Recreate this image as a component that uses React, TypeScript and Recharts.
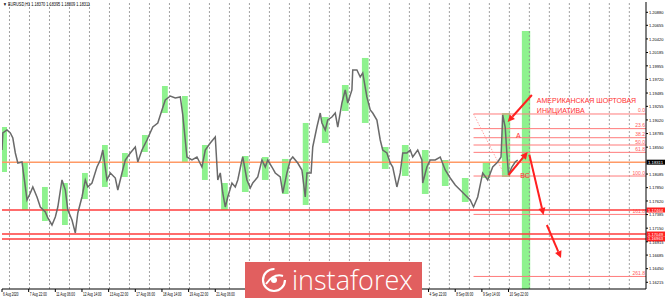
import { LineChart, Line, XAxis, YAxis, ReferenceArea, ReferenceLine, ReferenceDot } from "recharts";

// [bar index (H1), price]
const priceTrack: [number, number][] = [
  [0, 1.18501], [1, 1.18795], [6, 1.18847], [10, 1.18795], [13, 1.18708], [16, 1.18449], [19, 1.18276],
  [24, 1.18294], [28, 1.17862], [30, 1.17637], [34, 1.17758], [37, 1.17862], [42, 1.17689], [46, 1.17516],
  [52, 1.1743], [55, 1.17326], [60, 1.17205], [64, 1.17343], [67, 1.17516], [72, 1.17983], [76, 1.1781],
  [79, 1.17464], [84, 1.17291], [88, 1.17067], [91, 1.17412], [96, 1.17689], [100, 1.17983], [103, 1.17862],
  [108, 1.17931], [114, 1.18207], [118, 1.18328], [121, 1.18501], [126, 1.17983], [130, 1.18104], [136, 1.18017],
  [139, 1.1781], [144, 1.18104], [148, 1.18328], [154, 1.18449], [160, 1.18553], [163, 1.18294], [168, 1.18501],
  [174, 1.18674], [181, 1.18898], [187, 1.18968], [192, 1.19192], [196, 1.19365], [202, 1.19434], [208, 1.194],
  [214, 1.19417], [217, 1.19106], [222, 1.1838], [228, 1.18328], [234, 1.1838], [240, 1.18207], [244, 1.18501],
  [250, 1.18622], [256, 1.18726], [259, 1.17983], [262, 1.18104], [265, 1.17758], [268, 1.17516], [271, 1.17689],
  [276, 1.17931], [280, 1.17862], [283, 1.17983], [288, 1.18328], [289, 1.1838], [294, 1.17983], [298, 1.17844],
  [301, 1.17931], [307, 1.18034], [312, 1.18328], [316, 1.18207], [319, 1.18328], [324, 1.18207], [328, 1.18104],
  [334, 1.18034], [337, 1.17758], [342, 1.18104], [346, 1.18328], [349, 1.1838], [355, 1.18276], [360, 1.18155],
  [364, 1.17689], [366, 1.18104], [371, 1.18104], [373, 1.18553], [378, 1.18898], [382, 1.1914], [384, 1.18968],
  [388, 1.18847], [391, 1.19019], [396, 1.19071], [400, 1.1914], [403, 1.18898], [408, 1.19313], [412, 1.19538],
  [415, 1.19313], [420, 1.19538], [421, 1.19883], [426, 1.19883], [430, 1.19762], [433, 1.19832], [438, 1.19417],
  [442, 1.19192], [445, 1.1914], [450, 1.19019], [454, 1.18674], [457, 1.18501], [462, 1.18449], [466, 1.18276],
  [469, 1.18207], [474, 1.17862], [478, 1.18104], [481, 1.18449], [486, 1.18449], [490, 1.18501], [493, 1.1838],
  [499, 1.18501], [504, 1.18328], [505, 1.17931], [510, 1.18207], [514, 1.18328], [520, 1.18328], [526, 1.1838],
  [532, 1.18155], [538, 1.18017], [544, 1.17896], [550, 1.1781], [556, 1.17723], [562, 1.17637], [566, 1.17516],
  [571, 1.17689], [577, 1.18104], [583, 1.17983], [589, 1.18207], [595, 1.18294], [599, 1.1838], [601, 1.19106],
  [604, 1.18898], [606, 1.18449], [608, 1.18069], [612, 1.18207], [616, 1.18294], [619, 1.18328],
];

// green session boxes: [fromBar, toBar, high, low]
const sessionBoxes: [number, number, number, number][] = [
  [0, 6, 1.18898, 1.18121], [24, 31, 1.18276, 1.17464], [48, 55, 1.17862, 1.17274], [72, 79, 1.17931, 1.17205],
  [96, 103, 1.18104, 1.17654], [120, 127, 1.18587, 1.17862], [144, 151, 1.18449, 1.18034], [168, 175, 1.1876, 1.18466],
  [192, 199, 1.19607, 1.1914], [216, 223, 1.19434, 1.18276], [240, 247, 1.18587, 1.17983], [263, 271, 1.17931, 1.17464],
  [288, 296, 1.18397, 1.17775], [312, 320, 1.1838, 1.17983], [336, 344, 1.18346, 1.17741], [361, 368, 1.18968, 1.17551],
  [384, 392, 1.19071, 1.18622], [408, 416, 1.19624, 1.19175], [432, 440, 1.20091, 1.18968], [456, 464, 1.18553, 1.18173],
  [480, 488, 1.18587, 1.18052], [504, 512, 1.18501, 1.17741], [528, 536, 1.18328, 1.17879], [552, 560, 1.18017, 1.17602],
  [577, 586, 1.18276, 1.18017], [600, 610, 1.1914, 1.18034], [624, 634, 1.20557, 1.161],
];

const dayLines = [9, 33, 57, 81, 105, 129, 153, 177, 201, 225, 249, 273, 297, 321, 345, 369, 393, 417, 441, 465,
  489, 513, 537, 561, 585, 609, 633, 657, 681, 705, 729, 753];

// labels between 21 Aug and 4 Sep sit under the watermark in the original, so they are left out
const timeTicks = [0, 32, 64, 96, 128, 160, 192, 224, 256, 512, 544, 576, 608];
const timeLabels = ["6 Aug 2020", "7 Aug 22:00", "11 Aug 06:00", "12 Aug 14:00", "13 Aug 22:00", "17 Aug 06:00",
  "18 Aug 14:00", "19 Aug 22:00", "21 Aug 06:00", "4 Sep 22:00", "8 Sep 06:00", "9 Sep 14:00", "10 Sep 22:00"];

const priceTicks = [1.2088, 1.20655, 1.2042, 1.20185, 1.19955, 1.1972, 1.19485, 1.19255, 1.1902, 1.18785, 1.1855,
  1.18085, 1.1785, 1.1762, 1.17385, 1.1715, 1.16915, 1.16685, 1.1645, 1.16215];

const fiboFrom = 566;
const fiboPrices = [1.19123, 1.1887, 1.18713, 1.18587, 1.1846, 1.18051, 1.17388, 1.16316];
const fiboNames = ["0.0", "23.6", "38.2", "50.0", "61.8", "100.0", "161.8", "261.8"];

const levelPrices = [1.1829, 1.17464, 1.17049, 1.16963];
const levelColors = ["#ff9a66", "#ff3b3b", "#ff3b3b", "#ff3b3b"];
const levelBoxes = ["#000000", "#ff2020", "#ff2020", "#ff2020"];
const levelTexts = ["1.18311", "1.17464", "1.17049", "1.16963"];

// arrows: [fromBar, fromPrice, toBar, toPrice]
const arrows: [number, number, number, number][] = [
  [636, 1.19451, 607, 1.18985],
  [608, 1.18069, 631, 1.18466],
  [633, 1.1842, 650, 1.17378],
  [654, 1.17205, 671, 1.16635],
];

const X_MAX = 773;
const Y_MIN = 1.16099;
const Y_MAX = 1.21058;
const FONT = "'Liberation Sans', Arial, sans-serif";
const RED = "#ff2020";

const data = priceTrack.map(([bar, price]) => ({ bar, price }));

function TimeTick({ x, y, payload }: any) {
  const i = timeTicks.indexOf(payload.value);
  const label = timeLabels[i] ?? "";
  return (
    <text
      x={x + 1}
      y={y + 4}
      fontSize={4.8}
      fill="#000"
      textAnchor="start"
      fontFamily={FONT}
      textLength={label.length * 1.55}
      lengthAdjust="spacingAndGlyphs"
    >
      {label}
    </text>
  );
}

function PriceTick({ x, y, payload }: any) {
  return (
    <text
      x={x}
      y={y + 1.8}
      fontSize={4.4}
      fill="#000"
      textAnchor="start"
      fontFamily={FONT}
      textLength={14.5}
      lengthAdjust="spacingAndGlyphs"
    >
      {payload.value.toFixed(5)}
    </text>
  );
}

function FiboLabel({ viewBox, text }: any) {
  if (!viewBox) return null;
  return (
    <text x={viewBox.x + viewBox.width - 1} y={viewBox.y - 1.5} fontSize={5} fill="#ff5a5a" textAnchor="end" fontFamily={FONT}>
      {text}
    </text>
  );
}

function AxisBox({ viewBox, text, color }: any) {
  if (!viewBox) return null;
  const x = viewBox.x + viewBox.width;
  return (
    <g>
      <rect x={x + 0.5} y={viewBox.y - 2.5} width={18.5} height={5} fill={color} />
      <text
        x={x + 2}
        y={viewBox.y + 1.5}
        fontSize={4.2}
        fill="#fff"
        fontFamily={FONT}
        textLength={15}
        lengthAdjust="spacingAndGlyphs"
      >
        {text}
      </text>
    </g>
  );
}

function Arrow(props: any) {
  const { x1, y1, x2, y2 } = props;
  const a = Math.atan2(y2 - y1, x2 - x1);
  const len = 7;
  const w = 3.5;
  const bx = x2 - len * Math.cos(a);
  const by = y2 - len * Math.sin(a);
  const p1 = `${bx + w * Math.sin(a)},${by - w * Math.cos(a)}`;
  const p2 = `${bx - w * Math.sin(a)},${by + w * Math.cos(a)}`;
  return (
    <g>
      <line x1={x1} y1={y1} x2={bx} y2={by} stroke={RED} strokeWidth={2} />
      <polygon points={`${x2},${y2} ${p1} ${p2}`} fill={RED} />
    </g>
  );
}

function Note({ lines, size }: { lines: string[]; size: number }) {
  return ({ cx, cy }: any) => (
    <text x={cx} y={cy} fontSize={size} fill="#ff3030" fontFamily={FONT}>
      {lines.map((l, i) => (
        <tspan key={i} x={cx} dy={i === 0 ? 0 : size * 1.5}>
          {l}
        </tspan>
      ))}
    </text>
  );
}

function Logo() {
  return (
    <div
      style={{
        position: "absolute",
        left: 245,
        top: 262,
        width: 177,
        height: 36,
        background: "#e15f5f",
        display: "flex",
        alignItems: "center",
      }}
    >
      <svg width={30} height={30} style={{ marginLeft: 14 }}>
        <circle cx={15} cy={15} r={11} fill="none" stroke="#fff" strokeWidth={2.2} strokeDasharray="52 17" />
        <path d="M7 19 Q15 8 24 11" fill="none" stroke="#fff" strokeWidth={2} />
        <circle cx={15} cy={15} r={3} fill="#fff" />
      </svg>
      <span
        style={{
          marginLeft: 3,
          color: "#fff",
          fontFamily: "'Open Sans', sans-serif",
          fontWeight: 300,
          fontSize: 27,
          lineHeight: "36px",
        }}
      >
        instaforex
      </span>
    </div>
  );
}

export default function App() {
  return (
    <div style={{ position: "absolute", left: 0, top: 0, width: 665, height: 298, background: "#fff", overflow: "hidden" }}>
      <LineChart width={665} height={298} data={data} margin={{ top: 2, right: 0, left: 2, bottom: 0 }}>
        <XAxis
          dataKey="bar"
          type="number"
          domain={[0, X_MAX]}
          allowDataOverflow
          ticks={timeTicks}
          interval={0}
          tick={<TimeTick />}
          tickSize={3}
          tickMargin={0}
          height={9}
          stroke="#000"
        />
        <YAxis
          orientation="right"
          type="number"
          domain={[Y_MIN, Y_MAX]}
          allowDataOverflow
          ticks={priceTicks}
          interval={0}
          tick={<PriceTick />}
          tickSize={2}
          tickMargin={1}
          width={19}
          stroke="#000"
        />
        {sessionBoxes.map(([x1, x2, hi, lo], i) => (
          <ReferenceArea key={`s${i}`} x1={x1} x2={x2} y1={lo} y2={hi} fill="#8ef28e" fillOpacity={1} stroke="none" />
        ))}
        {dayLines.map((d) => (
          <ReferenceLine key={`d${d}`} x={d} stroke="#8a8a8a" strokeWidth={0.8} strokeDasharray="2 2" />
        ))}
        {fiboPrices.map((p, i) => (
          <ReferenceLine
            key={`f${i}`}
            segment={[{ x: fiboFrom, y: p }, { x: X_MAX, y: p }]}
            stroke="#ff7b7b"
            strokeWidth={1}
            label={<FiboLabel text={fiboNames[i]} />}
          />
        ))}
        <ReferenceLine
          segment={[{ x: fiboFrom, y: fiboPrices[0] }, { x: 604, y: fiboPrices[5] }]}
          stroke="#ff9090"
          strokeWidth={0.8}
          strokeDasharray="1.5 1.5"
        />
        {levelPrices.map((p, i) => (
          <ReferenceLine
            key={`l${i}`}
            y={p}
            stroke={levelColors[i]}
            strokeWidth={1.4}
            label={<AxisBox text={levelTexts[i]} color={levelBoxes[i]} />}
          />
        ))}
        <Line
          type="linear"
          dataKey="price"
          stroke="#6a6a6a"
          strokeWidth={1.5}
          dot={false}
          isAnimationActive={false}
        />
        {arrows.map(([a, b, c, d], i) => (
          <ReferenceLine key={`a${i}`} segment={[{ x: a, y: b }, { x: c, y: d }]} shape={Arrow} />
        ))}
        <ReferenceDot x={642} y={1.19313} r={0} shape={Note({ lines: ["АМЕРИКАНСКАЯ ШОРТОВАЯ", "ИНИЦИАТИВА"], size: 7 })} />
        <ReferenceDot x={617} y={1.18708} r={0} shape={Note({ lines: ["A"], size: 7 })} />
        <ReferenceDot x={622} y={1.18017} r={0} shape={Note({ lines: ["BC"], size: 7 })} />
      </LineChart>
      <svg width={120} height={8} style={{ position: "absolute", left: 0, top: 0 }}>
        <text x={3} y={5.5} fontSize={4.8} fontFamily={FONT} fill="#000" textLength={87} lengthAdjust="spacingAndGlyphs">
          ▼ EURUSD,H1  1.18370 1.18395 1.18309 1.18311
        </text>
      </svg>
      <Logo />
    </div>
  );
}
